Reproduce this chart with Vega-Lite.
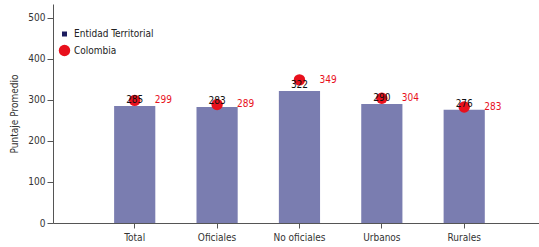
{
  "$schema": "https://vega.github.io/schema/vega-lite/v6.json",
  "autosize": {"type": "none"},
  "padding": {"left": 53, "top": 4, "right": 0, "bottom": 24},
  "width": 486,
  "height": 219,
  "background": "white",
  "config": {
    "view": {"stroke": null},
    "font": "DejaVu Sans Condensed, Liberation Sans Narrow, Liberation Sans, sans-serif",
    "axis": {"labelFont": "DejaVu Sans Condensed, Liberation Sans Narrow, Liberation Sans, sans-serif", "titleFont": "DejaVu Sans Condensed, Liberation Sans Narrow, Liberation Sans, sans-serif", "labelColor": "#333", "titleColor": "#333", "domainColor": "#555", "tickColor": "#555", "grid": false},
    "legend": {"labelFont": "DejaVu Sans Condensed, Liberation Sans Narrow, Liberation Sans, sans-serif"}
  },
  "data": {"values": [
    {"categoria": "Total", "entidad": 285, "colombia": 299},
    {"categoria": "Oficiales", "entidad": 283, "colombia": 289},
    {"categoria": "No oficiales", "entidad": 322, "colombia": 349},
    {"categoria": "Urbanos", "entidad": 290, "colombia": 304},
    {"categoria": "Rurales", "entidad": 276, "colombia": 283}
  ]},
  "encoding": {
    "x": {"field": "categoria", "type": "nominal", "sort": null,
      "scale": {"paddingInner": 0.5, "paddingOuter": 0.7, "align": 0.53},
      "axis": {"title": null, "labelAngle": 0, "labelFontSize": 10, "tickSize": 5, "labelPadding": 4}}
  },
  "layer": [
    {
      "mark": {"type": "bar", "color": "#7a7db0"},
      "encoding": {
        "y": {"field": "entidad", "type": "quantitative",
          "scale": {"domain": [0, 534], "nice": false},
          "axis": {"title": "Puntaje Promedio", "values": [0, 100, 200, 300, 400, 500], "labelFontSize": 10, "titleFontSize": 10, "titleFontWeight": "normal", "tickSize": 6, "titlePadding": 8}}
      }
    },
    {
      "mark": {"type": "point", "filled": true, "opacity": 1},
      "encoding": {
        "y": {"field": "colombia", "type": "quantitative"},
        "color": {"datum": "Colombia", "type": "nominal",
          "scale": {"domain": ["Entidad Territorial", "Colombia"], "range": ["#1c1c5e", "#e8101c"]},
          "legend": {"title": null, "orient": "none", "legendX": 5, "legendY": 25, "labelFontSize": 10, "labelColor": "#222", "rowPadding": 5, "labelOffset": 3}},
        "shape": {"datum": "Colombia", "type": "nominal",
          "scale": {"domain": ["Entidad Territorial", "Colombia"], "range": ["square", "circle"]},
          "legend": {"title": null, "orient": "none", "legendX": 5, "legendY": 25, "labelFontSize": 10, "labelColor": "#222", "rowPadding": 5, "labelOffset": 3}},
        "size": {"datum": "Colombia", "type": "nominal",
          "scale": {"domain": ["Entidad Territorial", "Colombia"], "range": [25, 130]},
          "legend": {"title": null, "orient": "none", "legendX": 5, "legendY": 25, "labelFontSize": 10, "labelColor": "#222", "rowPadding": 5, "labelOffset": 3}}
      }
    },
    {
      "mark": {"type": "text", "baseline": "alphabetic", "dy": -3, "fontSize": 10, "color": "#111"},
      "encoding": {
        "y": {"field": "entidad", "type": "quantitative"},
        "text": {"field": "entidad", "type": "quantitative"}
      }
    },
    {
      "mark": {"type": "text", "align": "left", "baseline": "middle", "dx": 20, "fontSize": 10, "color": "#e8101c"},
      "encoding": {
        "y": {"field": "colombia", "type": "quantitative"},
        "text": {"field": "colombia", "type": "quantitative"}
      }
    }
  ]
}
